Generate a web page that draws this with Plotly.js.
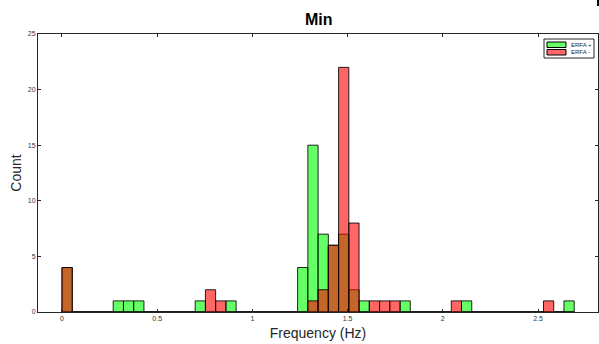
<!DOCTYPE html>
<html>
<head>
<meta charset="utf-8">
<script src="https://cdn.plot.ly/plotly-3.0.1.min.js"></script>
<style>html,body{margin:0;padding:0;background:#fff;}#chart{width:599px;height:344px;}</style>
</head>
<body>
<div id="chart"></div>
<script>
// Histogram: 50 bins from 0 to 2.69 Hz
const binStart = 0;
const binWidth = 0.0538;
const seriesNames = ["ERFA +", "ERFA -"];
const seriesColors = ['rgba(0,255,0,0.6)', 'rgba(255,0,0,0.6)'];
// counts per bin (bin index 0..49)
const countsPlus = [4,0,0,0,0,1,1,1,0,0, 0,0,0,1,0,0,1,0,0,0, 0,0,0,4,15,7,6,7,2,1, 0,0,0,1,0,0,0,0,0,1, 0,0,0,0,0,0,0,0,0,1];
const countsMinus = [4,0,0,0,0,0,0,0,0,0, 0,0,0,0,2,1,0,0,0,0, 0,0,0,0,1,2,6,22,8,0, 1,1,1,0,0,0,0,0,1,0, 0,0,0,0,0,0,0,1,0,0];
const xTicks = [0, 0.5, 1, 1.5, 2, 2.5];
const xTickLabels = ["0", "0.5", "1", "1.5", "2", "2.5"];
const yTicks = [0, 5, 10, 15, 20, 25];

const centers = countsPlus.map((_, i) => binStart + (i + 0.5) * binWidth);

function trace(name, counts, color) {
  return {
    type: 'bar', name: name, x: centers, y: counts, width: binWidth,
    marker: {color: color, line: {color: 'rgba(0,0,0,0.85)', width: 1}},
    hoverinfo: 'x+y', showlegend: false
  };
}

const data = [
  trace(seriesNames[0], countsPlus, seriesColors[0]),
  trace(seriesNames[1], countsMinus, seriesColors[1])
];

const FONT = 'Liberation Sans, Arial, sans-serif';
const INK = '#262626';
const axisCommon = {
  showline: true, linecolor: INK, linewidth: 1, mirror: 'ticks',
  ticks: 'inside', ticklen: 3, tickcolor: INK, showgrid: false, zeroline: false,
  tickfont: {family: FONT, size: 7, color: '#333333'}
};

// compact MATLAB-style legend box (paper coords of plot area: 38..598 x, 34..312 y)
const W = 560, H = 278, L = 38, T = 34;
const px = x => (x - L) / W;
const py = y => (T + H - y) / H;
const shapes = [
  {type: 'rect', xref: 'paper', yref: 'paper', x0: px(544), x1: px(594), y0: py(39), y1: py(58),
   fillcolor: '#fff', line: {color: INK, width: 1}},
  {type: 'rect', xref: 'paper', yref: 'paper', x0: px(547), x1: px(566), y0: py(42), y1: py(47.5),
   fillcolor: seriesColors[0], line: {color: '#000', width: 1}},
  {type: 'rect', xref: 'paper', yref: 'paper', x0: px(547), x1: px(566), y0: py(49.5), y1: py(55),
   fillcolor: seriesColors[1], line: {color: '#000', width: 1}},
  {type: 'rect', xref: 'paper', yref: 'paper', x0: px(597), x1: px(600), y0: py(0), y1: py(6),
   fillcolor: '#000', line: {width: 0}}
];
const annotations = seriesNames.map((n, i) => ({
  xref: 'paper', yref: 'paper', x: px(569), y: py(i === 0 ? 44.8 : 52.3), xanchor: 'left', yanchor: 'middle',
  text: n, showarrow: false, font: {family: FONT, size: 6, color: INK}
}));

const layout = {
  width: 599, height: 344,
  margin: {l: 38, r: 1, t: 34, b: 32},
  paper_bgcolor: '#fff', plot_bgcolor: '#fff',
  barmode: 'overlay', bargap: 0,
  title: {text: '<b>Min</b>', x: 0.532, xanchor: 'center', y: 0.945, yanchor: 'middle',
    font: {family: FONT, size: 16, color: '#000'}},
  xaxis: Object.assign({}, axisCommon, {
    range: [-0.126, 2.815], tickvals: xTicks, ticktext: xTickLabels,
    title: {text: 'Frequency (Hz)', standoff: 6, font: {family: FONT, size: 14, color: INK}}
  }),
  yaxis: Object.assign({}, axisCommon, {
    range: [0, 25], tickvals: yTicks,
    title: {text: 'Count', standoff: 2, font: {family: FONT, size: 14, color: INK}}
  }),
  shapes: shapes,
  annotations: annotations,
  showlegend: false
};

Plotly.newPlot('chart', data, layout, {displayModeBar: false, staticPlot: true});
</script>
</body>
</html>
